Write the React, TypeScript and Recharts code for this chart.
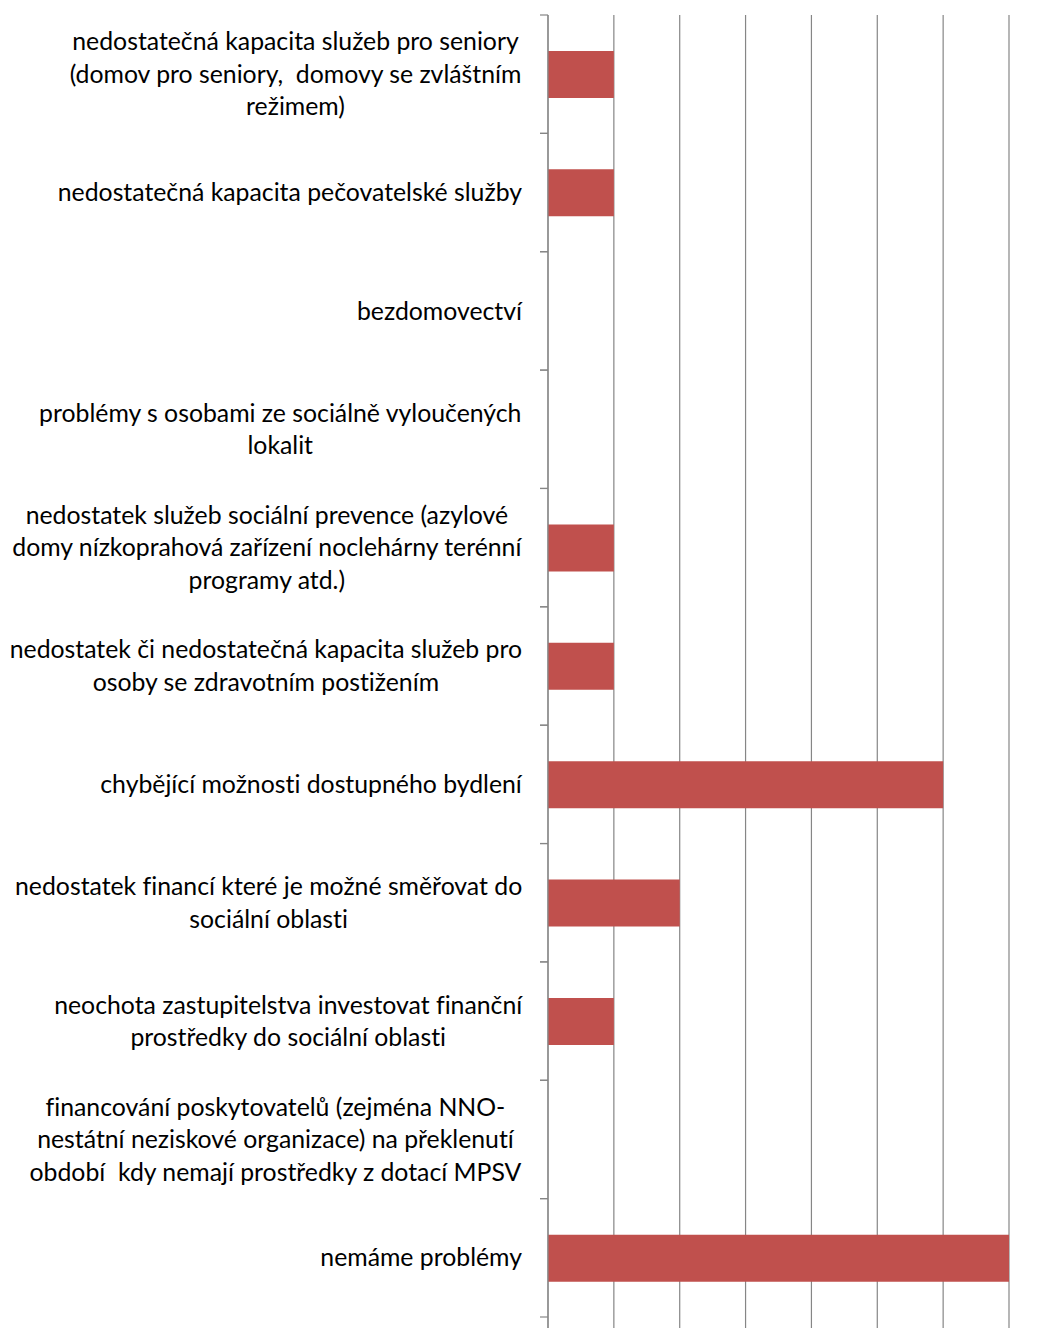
import { BarChart, Bar, XAxis, YAxis, CartesianGrid } from "recharts";

// category labels, line breaks as in the original chart
const categories = [
  "nedostatečná kapacita služeb pro seniory\n(domov pro seniory,  domovy se zvláštním\nrežimem)",
  "nedostatečná kapacita pečovatelské služby",
  "bezdomovectví",
  "problémy s osobami ze sociálně vyloučených\nlokalit",
  "nedostatek služeb sociální prevence (azylové\ndomy nízkoprahová zařízení noclehárny terénní\nprogramy atd.)",
  "nedostatek či nedostatečná kapacita služeb pro\nosoby se zdravotním postižením",
  "chybějící možnosti dostupného bydlení",
  "nedostatek financí které je možné směřovat do\nsociální oblasti",
  "neochota zastupitelstva investovat finanční\nprostředky do sociální oblasti",
  "financování poskytovatelů (zejména NNO-\nnestátní neziskové organizace) na překlenutí\nobdobí  kdy nemají prostředky z dotací MPSV",
  "nemáme problémy",
];
const counts = [1, 1, 0, 0, 1, 1, 6, 2, 1, 0, 7];
const xTicks = [0, 1, 2, 3, 4, 5, 6, 7];

const data = categories.map((name, i) => ({ name, value: counts[i] }));

const FONT = "Lato, sans-serif";
const FONT_SIZE = 24.8;
const LINE_H = 32.5;

let ctx: CanvasRenderingContext2D | null = null;
const measure = (s: string) => {
  if (!ctx) ctx = document.createElement("canvas").getContext("2d");
  if (!ctx) return s.length * FONT_SIZE * 0.5;
  ctx.font = `${FONT_SIZE}px Lato`;
  return ctx.measureText(s).width;
};

const CategoryTick = (props: any) => {
  const { x, y, payload } = props;
  const lines: string[] = String(payload.value).split("\n");
  const half = payload.offset || 59.2;
  const maxW = Math.max(...lines.map(measure));
  const right = x - 18;
  const cx = right - maxW / 2;
  const startY = y - ((lines.length - 1) * LINE_H) / 2;
  return (
    <g>
      <line x1={x} x2={x + 8} y1={y - half} y2={y - half} stroke="#868686" strokeWidth={1.2} />
      <line x1={x} x2={x + 8} y1={y + half} y2={y + half} stroke="#868686" strokeWidth={1.2} />
      <text
        textAnchor="middle"
        fontFamily={FONT}
        fontSize={FONT_SIZE}
        fill="#000"
        style={{ whiteSpace: "pre", fontVariantLigatures: "none" }}
      >
        {lines.map((l, i) => (
          <tspan key={i} x={cx} y={startY + i * LINE_H} dy="0.35em">
            {l}
          </tspan>
        ))}
      </text>
    </g>
  );
};

export default function App() {
  return (
    <div style={{ width: 1062, height: 1328, overflow: "hidden", background: "#fff" }}>
      <style>{`body{margin:0}`}</style>
      <BarChart
        layout="vertical"
        width={1062}
        height={1328}
        data={data}
        margin={{ top: 15, right: 53, bottom: 0, left: 0 }}
      >
        <CartesianGrid horizontal={false} stroke="#868686" strokeWidth={1.2} />
        <XAxis type="number" domain={[0, 7]} ticks={xTicks} hide />
        <YAxis
          type="category"
          dataKey="name"
          width={548}
          padding={{ top: 0, bottom: 11 }}
          axisLine={{ stroke: "#868686", strokeWidth: 1.2 }}
          tickLine={false}
          tick={<CategoryTick />}
          interval={0}
        />
        <Bar dataKey="value" fill="#C0504D" barSize={47} isAnimationActive={false} />
      </BarChart>
    </div>
  );
}
